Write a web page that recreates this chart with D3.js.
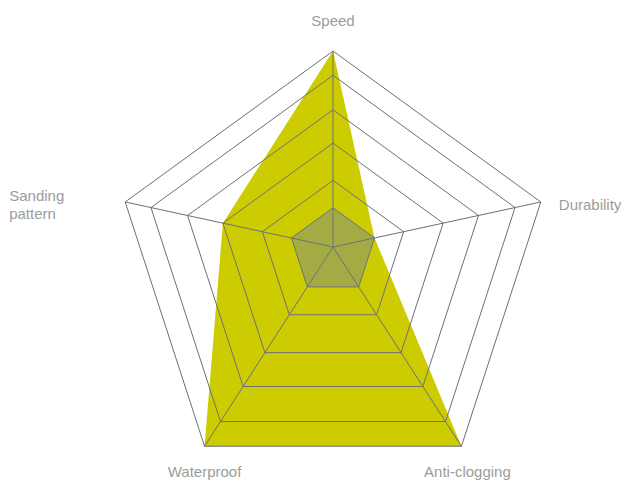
<!DOCTYPE html>
<html>
<head>
<meta charset="utf-8">
<script src="https://cdn.jsdelivr.net/npm/d3@7"></script>
<style>
  html, body { margin: 0; padding: 0; background: #fff; }
  svg { display: block; }
  .axis-name { font-family: "Liberation Sans", Arial, sans-serif; font-size: 15px; fill: #9c9c9c; }
</style>
</head>
<body>
<div id="chart"></div>
<script>
// axis names, clockwise from the top
const indicators = ["Speed", "Durability", "Anti-clogging", "Waterproof", "Sanding pattern"];
// ring levels of the grid
const levels = [1, 2, 3, 4, 5, 6];
// series values (in ring levels)
const productValues = [6, 1, 6, 6, 3];
const baseValues = [1, 1, 1, 1, 1];

const width = 628, height = 482;
const hub = { x: 333, y: 247 };      // where the spokes meet
const shapeR = 218.5;                // outer pentagon radius
const shapeDy = 22.5;                // pentagon centre sits below the hub

// the grid rings are not evenly spaced in the picture
const radial = d3.scaleLinear()
    .domain([0, 1, 2, 3, 4, 5, 6])
    .range([0, 0.2, 0.34, 0.53, 0.70, 0.876, 1]);

const angle = d3.scaleLinear().domain([0, indicators.length]).range([-Math.PI / 2, 1.5 * Math.PI]);

// outer vertex of each axis
const ends = indicators.map((d, i) => ({
    x: hub.x + shapeR * Math.cos(angle(i)),
    y: hub.y + shapeDy + shapeR * Math.sin(angle(i)),
}));

function pointAt(i, v) {
    const f = radial(v);
    return [hub.x + f * (ends[i].x - hub.x), hub.y + f * (ends[i].y - hub.y)];
}

const line = d3.line().curve(d3.curveLinearClosed);

const svg = d3.select("#chart").append("svg")
    .attr("width", width)
    .attr("height", height);

// series
svg.append("path")
    .attr("d", line(productValues.map((v, i) => pointAt(i, v))))
    .attr("fill", "#cccc00");

svg.append("path")
    .attr("d", line(baseValues.map((v, i) => pointAt(i, v))))
    .attr("fill", "#5470c6")
    .attr("fill-opacity", 0.34);

// grid rings and spokes
const grid = svg.append("g")
    .attr("fill", "none")
    .attr("stroke", "#6e7079")
    .attr("stroke-width", 1);

grid.selectAll("path.ring")
    .data(levels)
    .enter()
    .append("path")
    .attr("class", "ring")
    .attr("d", (lv) => line(indicators.map((d, i) => pointAt(i, lv))));

grid.selectAll("line.spoke")
    .data(indicators)
    .enter()
    .append("line")
    .attr("class", "spoke")
    .attr("x1", hub.x)
    .attr("y1", hub.y)
    .attr("x2", (d, i) => ends[i].x)
    .attr("y2", (d, i) => ends[i].y);

// axis names
const nameOffsets = [
    { dx: 0, dy: -25, anchor: "middle" },
    { dx: 18, dy: 8, anchor: "start" },
    { dx: 6, dy: 31, anchor: "middle" },
    { dx: 0, dy: 31, anchor: "middle" },
    { dx: -116, dy: -1, anchor: "start" },
];

indicators.forEach((name, i) => {
    const o = nameOffsets[i];
    const t = svg.append("text")
        .attr("class", "axis-name")
        .attr("text-anchor", o.anchor)
        .attr("x", ends[i].x + o.dx)
        .attr("y", ends[i].y + o.dy);
    const words = name === "Sanding pattern" ? name.split(" ") : [name];
    words.forEach((w, k) => {
        t.append("tspan")
            .attr("x", ends[i].x + o.dx)
            .attr("dy", k === 0 ? 0 : 18)
            .text(w);
    });
});
</script>
</body>
</html>
